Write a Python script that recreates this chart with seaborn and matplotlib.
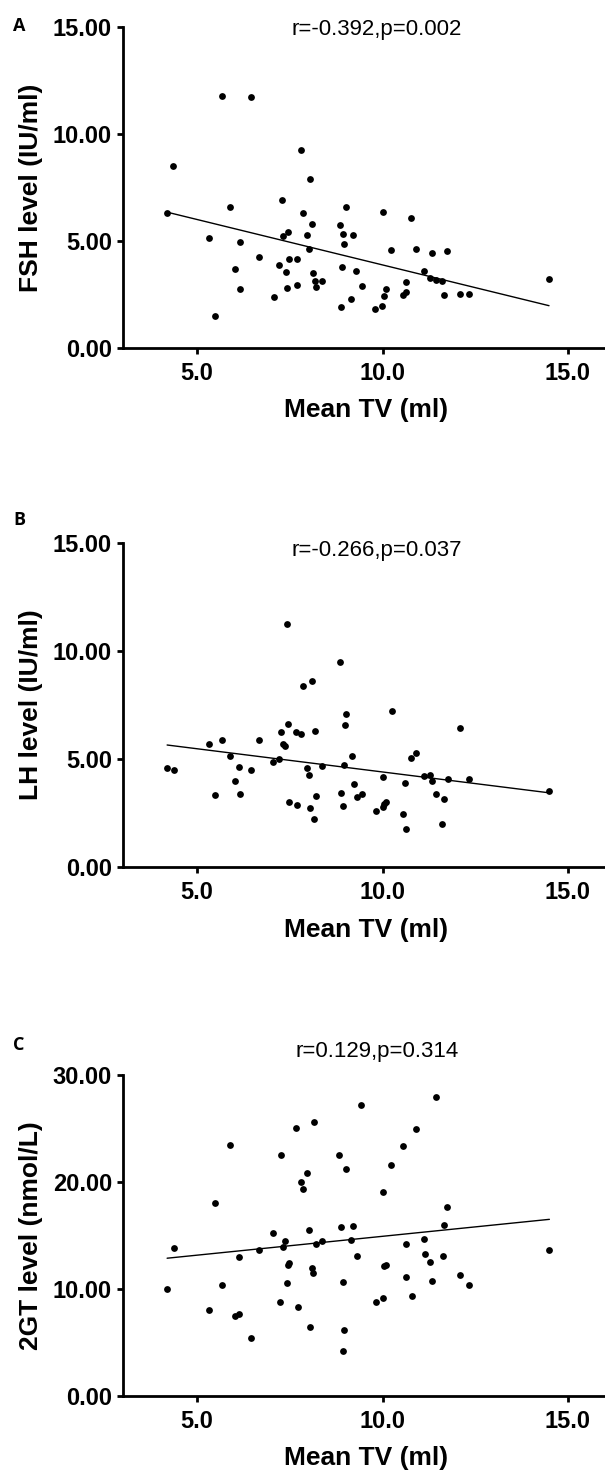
import matplotlib
matplotlib.use("Agg")
import matplotlib.pyplot as plt
import seaborn as sns
from matplotlib.ticker import FormatStrFormatter

# data
tv_a = [4.19, 4.36, 5.31, 5.47, 5.68, 5.89, 6.02, 6.15, 6.15, 6.45,
        6.67, 7.06, 7.22, 7.28, 7.32, 7.39, 7.42, 7.44, 7.48, 7.68,
        7.70, 7.81, 7.86, 7.96, 8.02, 8.04, 8.10, 8.13, 8.17, 8.20,
        8.36, 8.84, 8.88, 8.92, 8.94, 8.97, 9.01, 9.15, 9.21, 9.29,
        9.44, 9.80, 9.99, 10.00, 10.03, 10.08, 10.24, 10.55, 10.62, 10.64,
        10.78, 10.91, 11.12, 11.27, 11.33, 11.43, 11.61, 11.67, 11.74, 12.09,
        12.33, 14.49]
fsh = [6.29, 8.50, 5.15, 1.48, 11.79, 6.61, 3.70, 4.95, 2.78, 11.75,
       4.24, 2.37, 3.87, 6.94, 5.24, 3.57, 2.81, 5.44, 4.18, 4.17,
       2.93, 9.25, 6.32, 5.30, 4.65, 7.88, 5.79, 3.49, 3.12, 2.84,
       3.14, 5.74, 1.93, 3.81, 5.34, 4.85, 6.58, 2.31, 5.26, 3.59,
       2.90, 1.83, 1.98, 6.35, 2.45, 2.75, 4.57, 2.50, 3.10, 2.61,
       6.08, 4.62, 3.59, 3.26, 4.45, 3.20, 3.15, 2.46, 4.54, 2.54,
       2.51, 3.24]

tv_b = [4.19, 4.37, 5.31, 5.47, 5.68, 5.88, 6.02, 6.14, 6.15, 6.44,
        6.66, 7.05, 7.21, 7.27, 7.31, 7.38, 7.42, 7.45, 7.49, 7.67,
        7.70, 7.81, 7.86, 7.96, 8.02, 8.05, 8.11, 8.14, 8.17, 8.20,
        8.37, 8.84, 8.89, 8.94, 8.95, 8.98, 9.02, 9.17, 9.22, 9.30,
        9.45, 9.82, 10.00, 10.01, 10.05, 10.08, 10.25, 10.55, 10.61, 10.64,
        10.78, 10.91, 11.12, 11.28, 11.33, 11.43, 11.61, 11.67, 11.76, 12.09,
        12.33, 14.50]
lh = [4.60, 4.49, 5.69, 3.33, 5.89, 5.13, 3.98, 4.62, 3.37, 4.48,
      5.86, 4.84, 4.98, 6.27, 5.71, 5.60, 11.23, 6.61, 3.03, 6.24,
      2.85, 6.17, 8.37, 4.59, 4.25, 2.74, 8.62, 2.22, 6.30, 3.28,
      4.68, 9.49, 3.44, 2.83, 4.70, 6.56, 7.08, 5.13, 3.86, 3.22,
      3.37, 2.58, 4.18, 2.77, 2.92, 3.00, 7.22, 2.46, 3.89, 1.76,
      5.05, 5.30, 4.20, 4.25, 3.97, 3.36, 1.99, 3.13, 4.07, 6.45,
      4.07, 3.50]

tv_c = [4.19, 4.37, 5.31, 5.47, 5.68, 5.88, 6.02, 6.14, 6.14, 6.45,
        6.66, 7.05, 7.23, 7.27, 7.32, 7.38, 7.41, 7.46, 7.49, 7.67,
        7.71, 7.81, 7.86, 7.97, 8.03, 8.05, 8.11, 8.13, 8.15, 8.21,
        8.36, 8.83, 8.88, 8.93, 8.96, 8.93, 9.01, 9.16, 9.20, 9.30,
        9.43, 9.83, 10.01, 10.01, 10.05, 10.09, 10.24, 10.56, 10.62, 10.64,
        10.79, 10.91, 11.13, 11.15, 11.29, 11.33, 11.43, 11.62, 11.67, 11.74,
        12.09, 12.33, 14.50]
gt = [9.99, 13.79, 8.03, 18.05, 10.36, 23.47, 7.44, 7.63, 12.95, 5.45,
      13.60, 15.22, 8.78, 22.50, 13.88, 14.50, 10.55, 12.23, 12.39, 25.09,
      8.31, 20.04, 19.30, 20.88, 15.47, 6.41, 11.98, 11.52, 25.58, 14.22,
      14.53, 22.56, 15.78, 10.68, 6.19, 4.20, 21.26, 14.60, 15.87, 13.04,
      27.20, 8.75, 19.05, 9.18, 12.11, 12.23, 21.57, 23.37, 11.08, 14.25,
      9.31, 24.96, 14.66, 13.27, 12.54, 10.71, 27.92, 13.10, 16.00, 17.65,
      11.30, 10.36, 13.69]

ylabels = ["FSH level (IU/ml)", "LH level (IU/ml)", "2GT level (nmol/L)"]
stats = ["r=-0.392,p=0.002", "r=-0.266,p=0.037", "r=0.129,p=0.314"]
letters = ["A", "B", "C"]
y_tops = [15, 15, 30]
x_ticks = [5, 10, 15]

sns.set_style("ticks")
plt.rcParams["font.family"] = ["Liberation Sans", "DejaVu Sans"]
plt.rcParams["text.color"] = "black"
plt.rcParams["axes.labelcolor"] = "black"
plt.rcParams["axes.edgecolor"] = "black"
plt.rcParams["xtick.color"] = "black"
plt.rcParams["ytick.color"] = "black"

fig = plt.figure(figsize=(6.05, 14.71), dpi=100)

# axes boxes in figure fractions (left, bottom, width, height)
boxes = [
    [0.2033, 0.7634, 0.7967, 0.2182],
    [0.2033, 0.4106, 0.7967, 0.2203],
    [0.2033, 0.0510, 0.7967, 0.2182],
]
letter_y = [26, 520, 1045]
stat_y = [14.9, 14.67, 32.2]

panels = [(tv_a, fsh), (tv_b, lh), (tv_c, gt)]

for i, (xs, ys) in enumerate(panels):
    ax = fig.add_axes(boxes[i])
    sns.regplot(x=xs, y=ys, ax=ax, ci=None, color="black",
                scatter_kws={"s": 24, "linewidths": 0, "alpha": 1},
                line_kws={"lw": 1.0})

    ax.set_xlim(3, 16)
    ax.set_ylim(0, y_tops[i])
    ax.set_xticks(x_ticks)
    ax.set_yticks([y_tops[i] * k / 3 for k in range(4)])
    ax.xaxis.set_major_formatter(FormatStrFormatter("%.1f"))
    ax.yaxis.set_major_formatter(FormatStrFormatter("%.2f"))

    for side in ["top", "right"]:
        ax.spines[side].set_visible(False)
    for side in ["left", "bottom"]:
        ax.spines[side].set_linewidth(2.0)
        ax.spines[side].set_clip_on(False)

    ax.tick_params(axis="both", width=2.0, length=4, labelsize=17)
    ax.tick_params(axis="x", pad=6)
    ax.tick_params(axis="y", pad=4)
    for lab in ax.get_xticklabels() + ax.get_yticklabels():
        lab.set_fontweight("bold")

    ax.set_ylabel(ylabels[i], fontsize=19, fontweight="bold", va="center")
    ax.yaxis.set_label_coords(-0.191, 0.5)
    ax.set_xlabel("Mean TV (ml)", fontsize=19, fontweight="bold", va="center")
    ax.xaxis.set_label_coords(0.504, -0.193)

    ax.text(9.85, stat_y[i], stats[i], fontsize=16, ha="center", va="center",
            clip_on=False)

    fig.text(19 / 605, 1 - letter_y[i] / 1471, letters[i], fontsize=13,
             fontweight="bold", family=["Open Sans", "DejaVu Sans"],
             ha="center", va="center")

fig.savefig("out.png", dpi=100)
